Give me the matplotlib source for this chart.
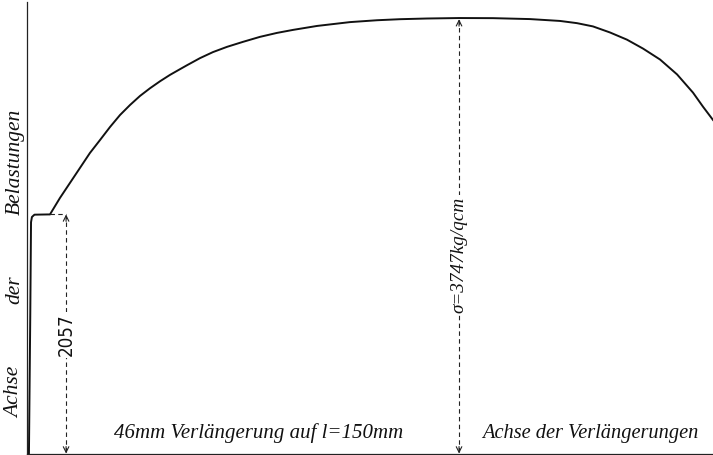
import matplotlib.pyplot as plt

# Zerreissdiagramm: Verlaengerung in mm, Belastung in kg/qcm
ext_mm = [0.13, 0.22, 0.27, 0.33, 0.50, 1.40, 1.54, 2.21, 2.88, 3.55, 4.22, 4.90,
          5.57, 6.24, 6.91, 7.58, 8.25, 8.92, 9.59, 10.26, 10.73, 11.60, 12.47,
          13.41, 14.48, 15.62, 16.76, 17.84, 19.45, 21.66, 23.47, 25.01, 26.82,
          28.97, 31.25, 33.73, 35.74, 36.88, 37.95, 39.09, 40.23, 41.31, 42.45,
          43.59, 44.66, 45.33, 46.0]
load = [0, 1200, 1990, 2035, 2055, 2057, 2057, 2199, 2328, 2457, 2586, 2698,
        2810, 2913, 2999, 3077, 3143, 3203, 3258, 3307, 3341, 3402, 3454,
        3499, 3542, 3585, 3619, 3645, 3679, 3712, 3728, 3737, 3743,
        3747, 3746, 3738, 3722, 3703, 3675, 3623, 3561, 3484, 3390,
        3262, 3105, 2984, 2870]

yield_load = 2057
yield_ext = 2.62
max_load = 3747
max_ext = 28.97
total_ext = 46
gauge_len = 150

script = dict(family=['Liberation Serif', 'DejaVu Serif'], style='italic', color='#111111')

fig = plt.figure(figsize=(7.13, 4.55), dpi=100, facecolor='w')
ax = fig.add_axes([27 / 713, 1.5 / 455, 686 / 713, 451.5 / 455])
ax.set_xlim(0, total_ext)
ax.set_ylim(0, 3885)
for s in ['top', 'right']:
    ax.spines[s].set_visible(False)
for s in ['left', 'bottom']:
    ax.spines[s].set_linewidth(0.9)
    ax.spines[s].set_color('#222222')
ax.set_xticks([])
ax.set_yticks([])

ax.plot(ext_mm, load, color='#111111', lw=1.4, solid_joinstyle='round', clip_on=False)

# Streckgrenze
ax.plot([1.54, yield_ext], [yield_load, yield_load], color='#222222', lw=0.8, ls=(0, (4, 3)))
ax.plot([yield_ext, yield_ext], [15, yield_load - 15], color='#222222', lw=0.8, ls=(0, (4, 3)))
ax.annotate('', xy=(yield_ext, yield_load), xytext=(yield_ext, yield_load - 60),
            arrowprops=dict(arrowstyle='->', lw=0.8, color='#222222', shrinkA=0, shrinkB=0))
ax.annotate('', xy=(yield_ext, 0), xytext=(yield_ext, 60),
            arrowprops=dict(arrowstyle='->', lw=0.8, color='#222222', shrinkA=0, shrinkB=0))
ax.text(yield_ext, 1020, str(yield_load), rotation=90, ha='center', va='center', fontsize=13.5,
        family='DejaVu Sans', fontstretch='condensed', color='#111111',
        bbox=dict(facecolor='w', edgecolor='none', pad=1))

# Bruchlast
ax.plot([max_ext, max_ext], [15, max_load - 20], color='#222222', lw=0.8, ls=(0, (4, 3)))
ax.annotate('', xy=(max_ext, max_load - 10), xytext=(max_ext, max_load - 70),
            arrowprops=dict(arrowstyle='->', lw=0.8, color='#222222', shrinkA=0, shrinkB=0))
ax.annotate('', xy=(max_ext, 0), xytext=(max_ext, 60),
            arrowprops=dict(arrowstyle='->', lw=0.8, color='#222222', shrinkA=0, shrinkB=0))
ax.text(max_ext, 1710, 'σ=%dkg/qcm' % max_load, rotation=90, ha='center', va='center',
        fontsize=13.8, bbox=dict(facecolor='w', edgecolor='none', pad=1), **script)

# Achsenbeschriftungen
ax.text(0.338, 0.045, '%dmm Verlängerung auf l=%dmm' % (total_ext, gauge_len), transform=ax.transAxes,
        ha='center', va='center', fontsize=15, **script)
ax.text(0.821, 0.045, 'Achse der Verlängerungen', transform=ax.transAxes,
        ha='center', va='center', fontsize=14.7, **script)
fig.text(15 / 713, 1 - 392 / 455, 'Achse', rotation=90, ha='center', va='center', fontsize=15.5, **script)
fig.text(15 / 713, 1 - 290 / 455, 'der', rotation=90, ha='center', va='center', fontsize=15.5, **script)
fig.text(15 / 713, 1 - 162 / 455, 'Belastungen', rotation=90, ha='center', va='center', fontsize=15.5, **script)

fig.savefig('out.png', dpi=100, facecolor='w')
